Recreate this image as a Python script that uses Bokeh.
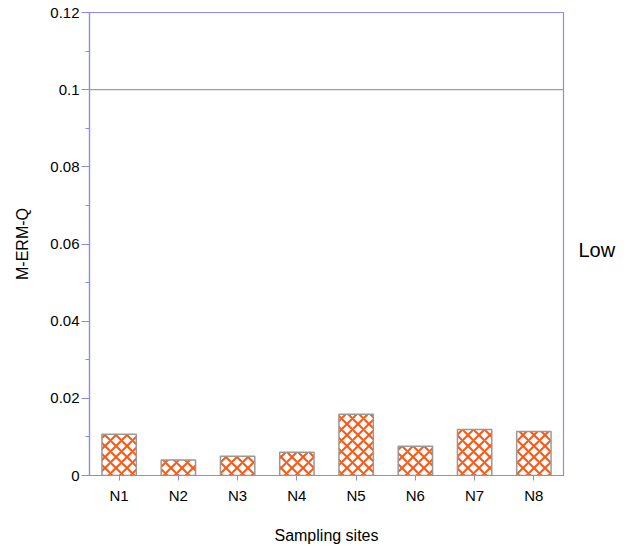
from bokeh.plotting import figure
from bokeh.models import ColumnDataSource, FactorRange, Range1d, Span, LinearAxis, FixedTicker
from bokeh.embed import file_html
from bokeh.resources import INLINE

sites = ["N1", "N2", "N3", "N4", "N5", "N6", "N7", "N8"]
merm_q = [0.0107, 0.0040, 0.0050, 0.0060, 0.0159, 0.0076, 0.0119, 0.0114]
y_ticks = [0, 0.02, 0.04, 0.06, 0.08, 0.1, 0.12]
y_tick_labels = ["0", "0.02", "0.04", "0.06", "0.08", "0.1", "0.12"]
threshold = 0.1
side_note = "Low"
side_note_y = 0.0584

FONT = "Liberation Sans"
AXIS_BLUE = "#8a8af0"

src = ColumnDataSource(dict(site=sites, val=merm_q))

p = figure(width=633, height=546, x_range=FactorRange(*sites, range_padding=0),
           y_range=Range1d(0, 0.12), output_backend="svg", toolbar_location=None,
           min_border_left=89, min_border_right=70, min_border_top=12, min_border_bottom=70)

p.vbar(x="site", top="val", width=0.58, source=src, fill_color="white",
       line_color="#999999", line_width=1.5,
       hatch_pattern="diagonal_cross", hatch_color="#ff5511", hatch_weight=2, hatch_scale=11)

p.add_layout(Span(location=threshold, dimension="width", line_color="#a0a0a0", line_width=1.2))

# side note drawn as the single label of an otherwise invisible right axis
note_axis = LinearAxis(ticker=FixedTicker(ticks=[side_note_y]),
                       major_label_overrides={side_note_y: side_note},
                       axis_line_color=None, major_tick_line_color=None,
                       minor_tick_line_color=None, major_tick_out=0, major_tick_in=0,
                       major_label_standoff=15, major_label_text_font=FONT,
                       major_label_text_font_size="20px", major_label_text_color="black")
p.add_layout(note_axis, "right")

p.xgrid.visible = False
p.ygrid.visible = False
p.outline_line_color = AXIS_BLUE
p.outline_line_width = 1.2
p.background_fill_color = "white"
p.border_fill_color = "white"

p.yaxis[0].ticker = FixedTicker(ticks=y_ticks, minor_ticks=[0.01, 0.03, 0.05, 0.07, 0.09, 0.11])
p.yaxis[0].major_label_overrides = {t: l for t, l in zip(y_ticks, y_tick_labels)}
p.yaxis[0].axis_label = "M-ERM-Q"
p.xaxis[0].axis_label = "Sampling sites"

for ax in (p.xaxis[0], p.yaxis[0]):
    ax.axis_line_color = AXIS_BLUE
    ax.axis_line_width = 1.2
    ax.major_tick_line_color = AXIS_BLUE
    ax.minor_tick_line_color = AXIS_BLUE
    ax.major_label_text_font = FONT
    ax.major_label_text_font_size = "15px"
    ax.major_label_text_color = "black"
    ax.axis_label_text_font = FONT
    ax.axis_label_text_font_size = "16px"
    ax.axis_label_text_font_style = "normal"
    ax.axis_label_text_color = "black"

yax = p.yaxis[0]
yax.major_tick_in = 0
yax.major_tick_out = 8
yax.minor_tick_in = 0
yax.minor_tick_out = 4
yax.major_label_standoff = 2
yax.axis_label_standoff = 16

xax = p.xaxis[0]
xax.major_tick_in = 0
xax.major_tick_out = 5
xax.minor_tick_out = 0
xax.major_label_standoff = 6
xax.axis_label_standoff = 20

open("out.html", "w").write(file_html(p, INLINE))
